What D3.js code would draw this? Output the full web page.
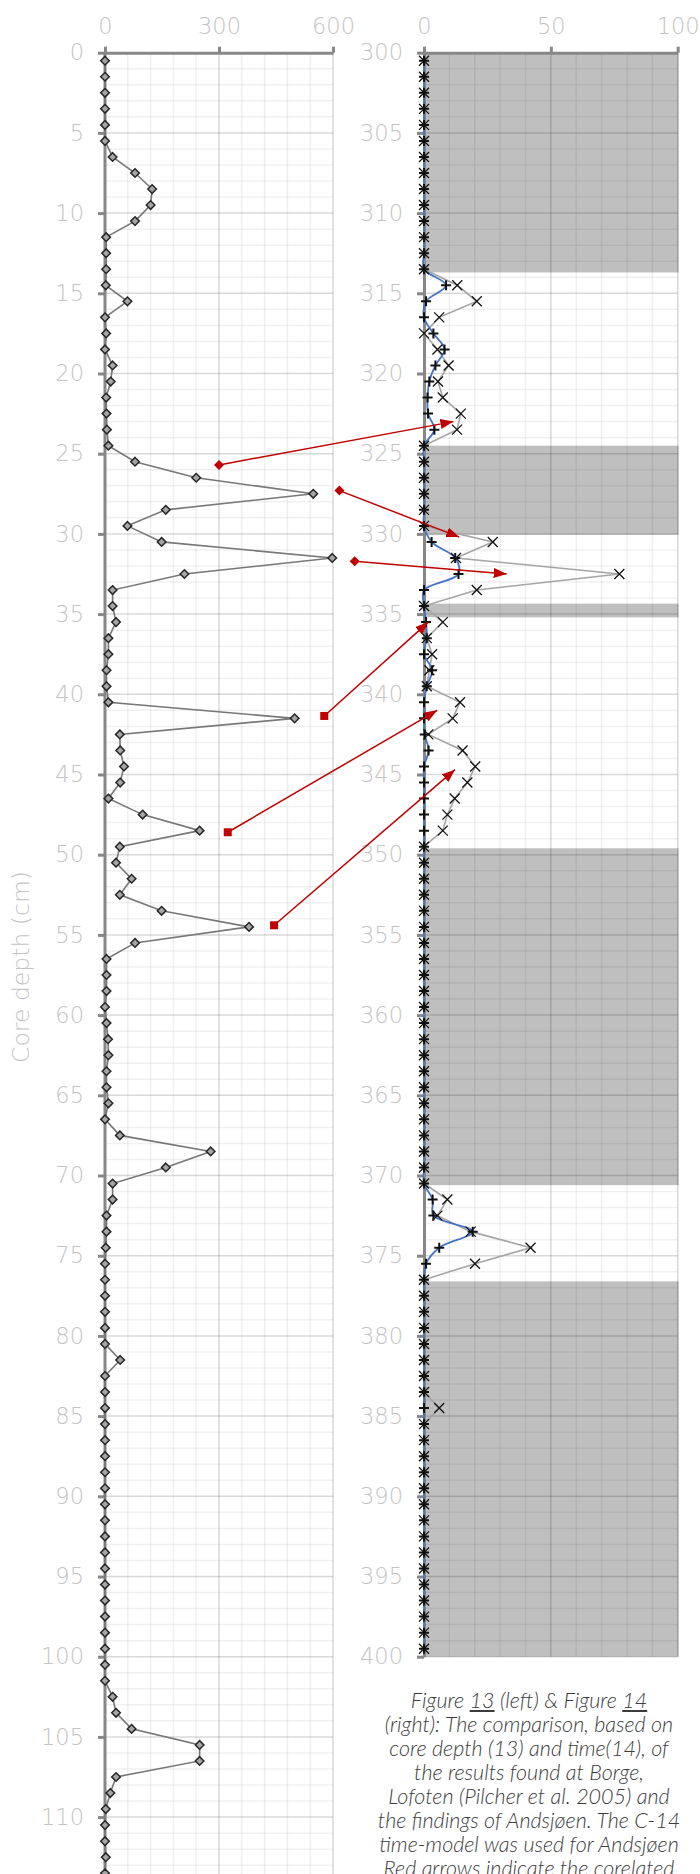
<!DOCTYPE html>
<html>
<head>
<meta charset="utf-8">
<script src="https://cdn.jsdelivr.net/npm/d3@7"></script>
<style>
  body { margin: 0; background: #fff; }
  #chart { position: relative; width: 700px; height: 1874px; overflow: hidden; }
  .caption {
    position: absolute; left: 329px; width: 400px; top: 1688px;
    text-align: center; color: #3c3c3c;
    font-family: Lato, "Open Sans", sans-serif; font-style: italic; font-weight: 300;
    font-size: 21.5px; line-height: 24px; white-space: nowrap;
  }
</style>
</head>
<body>
<div id="chart"></div>
<script>
// Borge (left, Figure 13): counts per cm, depths 0.5 .. 113.5
const borgeCounts = [
  0, 0, 0, 0, 0, 0, 20, 79, 124, 120,
  79, 3, 3, 3, 2, 59, 0, 3, 0, 20,
  15, 3, 4, 5, 9, 79, 240, 548, 160, 59,
  149, 598, 209, 20, 20, 29, 9, 9, 4, 4,
  9, 499, 39, 40, 50, 40, 9, 99, 249, 39,
  29, 70, 39, 149, 379, 79, 4, 4, 4, 0,
  4, 8, 9, 4, 4, 9, 0, 39, 278, 160,
  20, 20, 4, 4, 2, 0, 0, 0, 0, 0,
  0, 40, 0, 0, 0, 0, 0, 0, 0, 0,
  0, 0, 0, 0, 0, 0, 0, 0, 0, 0,
  0, 0, 20, 29, 70, 249, 249, 29, 14, 2,
  0, 0, 2, 0
];

// Andsjøen (right, Figure 14): depths 300.5 .. 399.5
const andsPlus = [
  0, 0, 0, 0, 0, 0, 0, 0, 0, 0, 0, 0, 0, 0,
  8.7, 0.8, 0, 3.7, 8.1, 4.5, 2.1, 1.4, 1.6, 4.1,
  0, 0, 0, 0, 0, 0,
  3.0, 12.3, 13.6, 0,
  0, 0.8, 1.1, 0, 3.2, 1.1, 0, 0, 0.3, 1.8, 0, 0, 0, 0, 0,
  0, 0, 0, 0, 0, 0, 0, 0, 0, 0, 0, 0, 0, 0, 0, 0, 0, 0, 0, 0, 0, 0,
  3.4, 3.7, 19.2, 6.0, 0.8,
  0, 0, 0, 0, 0, 0, 0, 0,
  0,
  0, 0, 0, 0, 0, 0, 0, 0, 0, 0, 0, 0, 0, 0, 0
];
const andsCross = [
  0, 0, 0, 0, 0, 0, 0, 0, 0, 0, 0, 0, 0, 0,
  13.1, 20.8, 6.0, 0, 5.3, 9.7, 5.5, 7.4, 14.5, 13.0,
  0, 0, 0, 0, 0, 0,
  27.1, 12.6, 77.0, 20.8,
  0, 7.4, 1.1, 3.2, 2.1, 1.1, 14.2, 11.3, 1.7, 15.2, 20.2, 17.1, 12.1, 9.2, 7.4,
  0, 0, 0, 0, 0, 0, 0, 0, 0, 0, 0, 0, 0, 0, 0, 0, 0, 0, 0, 0, 0, 0,
  9.2, 5.3, 18.4, 42.0, 20.1,
  0, 0, 0, 0, 0, 0, 0, 0,
  6.0,
  0, 0, 0, 0, 0, 0, 0, 0, 0, 0, 0, 0, 0, 0, 0
];

// grey depth intervals in the right panel
const bandStarts = [300, 324.5, 334.35, 349.6, 376.6];
const bandEnds   = [313.7, 330.05, 335.2, 370.6, 400];

// red correlation arrows: from (count, depth) on the left to (value, depth) on the right
const arrowFrom  = [[300, 25.7], [617, 27.3], [657, 31.7], [577, 41.35], [323, 48.6], [445, 54.4]];
const arrowTo    = [[11.6, 323.0], [13.9, 330.2], [32.6, 332.5], [1.7, 335.5], [5.2, 341.0], [12.2, 344.7]];
const arrowShape = ["diamond", "diamond", "diamond", "square", "square", "square"];

const leftTicksX  = [0, 300, 600];
const rightTicksX = [0, 50, 100];
const leftTicksY  = d3.range(0, 111, 5);
const rightTicksY = d3.range(300, 401, 5);

const width = 700, height = 1874;
const top0 = 52.7, cm = 16.04;
const tickFont = "'DejaVu Sans', Lato, sans-serif";

const xL = d3.scaleLinear().domain([0, 600]).range([105, 333]);
const yL = d3.scaleLinear().domain([0, 120]).range([top0, top0 + 120 * cm]);
const xR = d3.scaleLinear().domain([0, 100]).range([424, 677.7]);
const yR = d3.scaleLinear().domain([300, 400]).range([top0, top0 + 100 * cm]);

const svg = d3.select("#chart").append("svg")
    .attr("width", width)
    .attr("height", height)
    .attr("viewBox", [0, 0, width, height]);

svg.append("defs").append("marker")
    .attr("id", "head")
    .attr("markerUnits", "userSpaceOnUse")
    .attr("markerWidth", 14).attr("markerHeight", 10)
    .attr("refX", 13).attr("refY", 5)
    .attr("orient", "auto")
    .append("path")
    .attr("d", "M0,0L13,5L0,10Z")
    .attr("fill", "#c00000");

// bands first, gridlines over them
svg.append("g")
    .selectAll("rect")
    .data(bandStarts)
    .join("rect")
    .attr("x", xR(0))
    .attr("width", xR(100) - xR(0) + 1)
    .attr("y", d => yR(d))
    .attr("height", (d, i) => yR(bandEnds[i]) - yR(d))
    .attr("fill", "#bfbfbf");

function grid(x, y, xs, xMaj, ys, yMaj, y0, y1) {
    const g = svg.append("g");
    g.selectAll(".vx").data(xs).join("line")
        .attr("x1", d => x(d)).attr("x2", d => x(d))
        .attr("y1", y(y0)).attr("y2", y(y1))
        .attr("stroke", d => xMaj.includes(d) ? "rgba(0,0,0,0.15)" : "rgba(0,0,0,0.06)")
        .attr("stroke-width", 1.5);
    g.selectAll(".hy").data(ys).join("line")
        .attr("x1", x.range()[0]).attr("x2", x.range()[1])
        .attr("y1", d => y(d)).attr("y2", d => y(d))
        .attr("stroke", d => yMaj(d) ? "rgba(0,0,0,0.15)" : "rgba(0,0,0,0.06)")
        .attr("stroke-width", 1.5);
}
grid(xL, yL, d3.range(60, 601, 60), [300, 600], d3.range(1, 120, 1), d => d % 5 === 0, 0, 120);
grid(xR, yR, d3.range(10, 101, 10), [50, 100], d3.range(301, 401, 1), d => d % 5 === 0, 300, 400);

function styleAxis(g) {
    g.select(".domain").attr("stroke", "#878787").attr("stroke-width", 3);
    g.selectAll(".tick line").attr("stroke", "#878787").attr("stroke-width", 3);
    g.selectAll(".tick text")
        .attr("fill", "#c4c4c4")
        .attr("font-family", tickFont)
        .attr("font-weight", 200)
        .attr("font-size", 22.5);
}

// left panel axes (the axis line runs on past the last label)
svg.append("g")
    .attr("transform", `translate(${xL(0)},0)`)
    .call(d3.axisLeft(yL).tickValues(leftTicksY).tickSize(7).tickSizeOuter(0).tickPadding(14))
    .call(g => g.select(".domain").attr("d", `M0,${yL(0)}V${yL(120)}`))
    .call(styleAxis);
svg.append("g")
    .attr("transform", `translate(0,${yL(0)})`)
    .call(d3.axisTop(xL).tickValues(leftTicksX).tickSize(6).tickSizeOuter(0).tickPadding(13))
    .call(styleAxis);

// right panel axes
svg.append("g")
    .attr("transform", `translate(${xR(0)},0)`)
    .call(d3.axisLeft(yR).tickValues(rightTicksY).tickSize(7).tickSizeOuter(0).tickPadding(14))
    .call(styleAxis);
svg.append("g")
    .attr("transform", `translate(0,${yR(300)})`)
    .call(d3.axisTop(xR).tickValues(rightTicksX).tickSize(6).tickSizeOuter(0).tickPadding(13))
    .call(styleAxis);

// axis title
svg.append("text")
    .attr("transform", `translate(29,${yL(57)}) rotate(-90)`)
    .attr("text-anchor", "middle")
    .attr("fill", "#c4c4c4")
    .attr("font-family", tickFont)
    .attr("font-weight", 200)
    .attr("font-size", 23.5)
    .text("Core depth (cm)");

// left series
const borge = borgeCounts.map((v, i) => ({ depth: i + 0.5, v }));
svg.append("path")
    .datum(borge)
    .attr("fill", "none")
    .attr("stroke", "#777")
    .attr("stroke-width", 1.6)
    .attr("d", d3.line().x(d => xL(d.v)).y(d => yL(d.depth)));
svg.append("g")
    .selectAll("path")
    .data(borge)
    .join("path")
    .attr("transform", d => `translate(${xL(d.v)},${yL(d.depth)})`)
    .attr("d", "M0,-4.3L4.3,0L0,4.3L-4.3,0Z")
    .attr("fill", "#a5a5a5")
    .attr("stroke", "#262626")
    .attr("stroke-width", 1.5);

// right series
const ands = andsPlus.map((v, i) => ({ depth: 300.5 + i, p: v, c: andsCross[i] }));
svg.append("path")
    .datum(ands)
    .attr("fill", "none")
    .attr("stroke", "#a5a5a5")
    .attr("stroke-width", 1.6)
    .attr("d", d3.line().x(d => xR(d.c)).y(d => yR(d.depth)));
svg.append("path")
    .datum(ands)
    .attr("fill", "none")
    .attr("stroke", "#4472c4")
    .attr("stroke-width", 1.8)
    .attr("d", d3.line().curve(d3.curveCatmullRom.alpha(0.5)).x(d => xR(d.p)).y(d => yR(d.depth)));
svg.append("g")
    .selectAll("path")
    .data(ands)
    .join("path")
    .attr("transform", d => `translate(${xR(d.c)},${yR(d.depth)})`)
    .attr("d", "M-5,-5L5,5M-5,5L5,-5")
    .attr("stroke", "#111")
    .attr("stroke-width", 1.3);
svg.append("g")
    .selectAll("path")
    .data(ands)
    .join("path")
    .attr("transform", d => `translate(${xR(d.p)},${yR(d.depth)})`)
    .attr("d", "M-5,0H5M0,-5V5")
    .attr("stroke", "#111")
    .attr("stroke-width", 2);

// red arrows
const ag = svg.append("g");
ag.selectAll("line")
    .data(arrowFrom)
    .join("line")
    .attr("x1", d => xL(d[0])).attr("y1", d => yL(d[1]))
    .attr("x2", (d, i) => xR(arrowTo[i][0])).attr("y2", (d, i) => yR(arrowTo[i][1]))
    .attr("stroke", "#c00000")
    .attr("stroke-width", 1.5)
    .attr("marker-end", "url(#head)");
ag.selectAll("path")
    .data(arrowFrom)
    .join("path")
    .attr("transform", d => `translate(${xL(d[0])},${yL(d[1])})`)
    .attr("d", (d, i) => arrowShape[i] === "diamond" ? "M0,-5L5,0L0,5L-5,0Z" : "M-4,-4H4V4H-4Z")
    .attr("fill", "#c00000");

// caption (the last line runs off the bottom, as in the figure)
d3.select("#chart").append("div")
    .attr("class", "caption")
    .html("Figure <u>13</u> (left) &amp; Figure <u>14</u><br>" +
          "(right): The comparison, based on<br>" +
          "core depth (13) and time(14), of<br>" +
          "the results found at Borge,<br>" +
          "Lofoten (Pilcher et al. 2005) and<br>" +
          "the findings of Andsjøen. The C-14<br>" +
          "time-model was used for Andsjøen<br>" +
          "Red arrows indicate the corelated");
</script>
</body>
</html>
